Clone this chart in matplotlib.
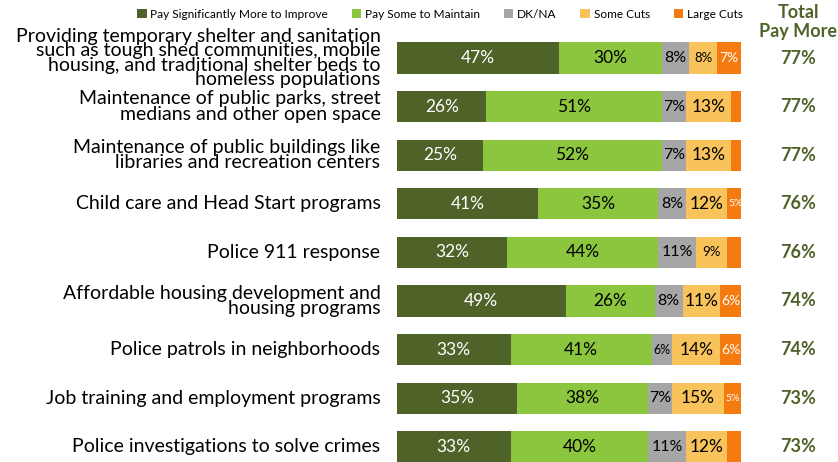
import matplotlib
matplotlib.use("Agg")
import matplotlib.pyplot as plt
from matplotlib.patches import Patch
import numpy as np

plt.rcParams['font.family'] = ['Lato', 'DejaVu Sans']

categories = [
    "Providing temporary shelter and sanitation\nsuch as tough shed communities, mobile\nhousing, and traditional shelter beds to\nhomeless populations",
    "Maintenance of public parks, street\nmedians and other open space",
    "Maintenance of public buildings like\nlibraries and recreation centers",
    "Child care and Head Start programs",
    "Police 911 response",
    "Affordable housing development and\nhousing programs",
    "Police patrols in neighborhoods",
    "Job training and employment programs",
    "Police investigations to solve crimes",
]
series_names = ["Pay Significantly More to Improve", "Pay Some to Maintain", "DK/NA", "Some Cuts", "Large Cuts"]
pay_sig_more = [47, 26, 25, 41, 32, 49, 33, 35, 33]
pay_some = [30, 51, 52, 35, 44, 26, 41, 38, 40]
dk_na = [8, 7, 7, 8, 11, 8, 6, 7, 11]
some_cuts = [8, 13, 13, 12, 9, 11, 14, 15, 12]
large_cuts = [7, 3, 3, 5, 4, 6, 6, 5, 4]
total_pay_more = ["77%", "77%", "77%", "76%", "76%", "74%", "74%", "73%", "73%"]

# which segments carry labels (unlabeled thin large-cut segments)
label_large = [True, False, False, True, False, True, True, True, False]

colors = ["#4f6228", "#8cc63f", "#a6a6a6", "#f9c35b", "#f57a10"]
olive = "#4f6228"

fig = plt.figure(figsize=(8.38, 4.62), dpi=100)
ax = fig.add_axes([397/838, 0, 344/838, 1])
y = np.arange(len(categories))
series = [pay_sig_more, pay_some, dk_na, some_cuts, large_cuts]
left = np.zeros(len(categories))
bar_h = 0.64
for si, vals in enumerate(series):
    vals = np.array(vals, dtype=float)
    ax.barh(y, vals, left=left, height=bar_h, color=colors[si], edgecolor='none')
    for i, v in enumerate(vals):
        cx = left[i] + v / 2
        if si == 0:
            ax.text(cx, y[i], f"{int(v)}%", ha='center', va='center', color='white', fontsize=12.5)
        elif si == 1:
            ax.text(cx, y[i], f"{int(v)}%", ha='center', va='center', color='black', fontsize=12.5)
        elif si == 2:
            fs = 9 if v <= 6 else 11.5
            ax.text(cx, y[i], f"{int(v)}%", ha='center', va='center', color='black', fontsize=fs)
        elif si == 3:
            fs = 9.5 if v < 10 else 12.5
            ax.text(cx, y[i], f"{int(v)}%", ha='center', va='center', color='black', fontsize=fs)
        elif si == 4 and label_large[i]:
            fs = 10 if v >= 6 else 7.5
            ax.text(cx, y[i], f"{int(v)}%", ha='center', va='center', color='white', fontsize=fs)
    left += vals

ax.set_xlim(0, 100)
ax.set_ylim((462 - 58) / 48.6, -58 / 48.6)
ax.axis('off')

for i, cat in enumerate(categories):
    ls = 0.8 if i == 0 else 0.88
    ax.text(-4.8, y[i], cat, ha='right', va='center', fontsize=14,
            linespacing=ls, color='black', multialignment='right')
    ax.text(798/838, 1 - (58 + 48.6 * i) / 462, total_pay_more[i], transform=fig.transFigure,
            ha='center', va='center', fontsize=13, fontweight='bold', color=olive)

fig.text(798/838, 1 - 12/462, "Total", ha='center', va='center', fontsize=13,
         fontweight='bold', color=olive)
fig.text(798/838, 1 - 32/462, "Pay More", ha='center', va='center', fontsize=13,
         fontweight='bold', color=olive)

handles = [Patch(facecolor=c, edgecolor='none') for c in colors]
fig.legend(handles, series_names, loc='center', bbox_to_anchor=(440/838, 1 - 14/462),
           ncol=5, frameon=False, fontsize=8.6, handlelength=0.8, handleheight=0.8,
           handletextpad=0.3, columnspacing=2.0, borderaxespad=0, borderpad=0)

fig.savefig("out.png", dpi=100)
